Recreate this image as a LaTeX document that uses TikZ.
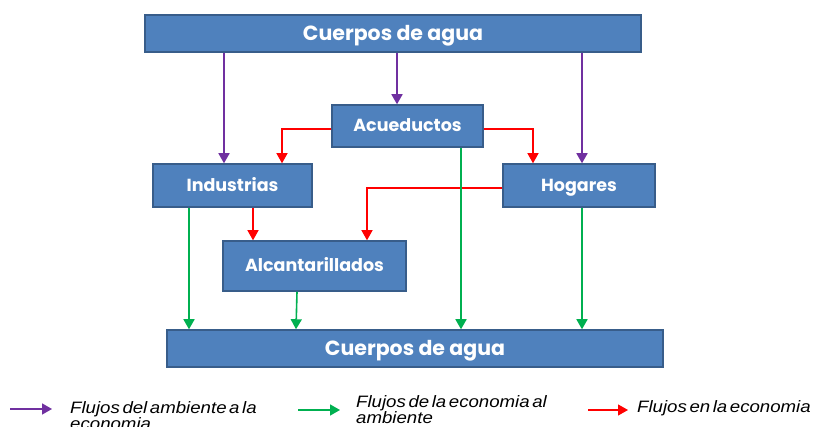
\documentclass[tikz,border=0pt]{standalone}
\usepackage{fontspec}
\setmainfont{Liberation Sans}
\newfontfamily\boxfont{Poppins}
\newfontfamily\legendfont{Liberation Sans}[FakeStretch=1.13, WordSpace=0.5]
\usetikzlibrary{arrows.meta}

\definecolor{box_blue}{HTML}{4F81BD}
\definecolor{box_edge}{HTML}{385D8A}
\definecolor{flow_purple}{HTML}{7030A0}
\definecolor{flow_green}{HTML}{00B050}
\definecolor{flow_red}{HTML}{FF0000}

\begin{document}
\begin{tikzpicture}[x=1pt, y=-1pt,
	flowbox/.style={draw=box_edge, line width=1.5pt, fill=box_blue, text=white, inner sep=0pt,
		text height=12pt, text depth=0pt, font=\boxfont\bfseries\fontsize{17.5}{19}\selectfont},
	bigbox/.style={flowbox, minimum width=496, minimum height=37, text height=14.5pt,
		font=\boxfont\bfseries\fontsize{20.5}{22}\selectfont},
	envarrow/.style={draw=flow_purple, line width=1.6pt, -{Triangle[width=11pt, length=10pt]}},
	ecoarrow/.style={draw=flow_green, line width=1.6pt, -{Triangle[width=11pt, length=10pt]}},
	inarrow/.style={draw=flow_red, line width=1.2pt, -{Triangle[width=11pt, length=10pt]}},
	legendtext/.style={font=\legendfont\itshape\fontsize{16.5}{15}\selectfont,
		align=left, inner sep=0pt, anchor=base west}]
	\useasboundingbox [fill=white] (0, 0) rectangle (814, 427);
	% draw the boxes
	\node [bigbox] (top) at (393, 33.5) {Cuerpos de agua};
	\node [flowbox, minimum width=151, minimum height=42] (acu) at (407.5, 126) {Acueductos};
	\node [flowbox, minimum width=159, minimum height=43] (ind) at (232.5, 185.5) {Industrias};
	\node [flowbox, minimum width=152, minimum height=43] (hog) at (579, 185.5) {Hogares};
	\node [flowbox, minimum width=183, minimum height=50] (alc) at (314.5, 266) {Alcantarillados};
	\node [bigbox] (bot) at (415, 348.5) {Cuerpos de agua};
	% flows from the environment
	\draw [envarrow] (224, 0 |- top.south) -- (224, 0 |- ind.north);
	\draw [envarrow] (397, 0 |- top.south) -- (397, 0 |- acu.north);
	\draw [envarrow] (582, 0 |- top.south) -- (582, 0 |- hog.north);
	% flows inside the economy
	\draw [inarrow] ([yshift=-3pt]acu.west) -| (282, 0 |- ind.north);
	\draw [inarrow] ([yshift=-3pt]acu.east) -| (533, 0 |- hog.north);
	\draw [inarrow] ([yshift=-2.5pt]hog.west) -| (367, 0 |- alc.north);
	\draw [inarrow] (253, 0 |- ind.south) -- (253, 0 |- alc.north);
	% flows back to the environment
	\draw [ecoarrow] (189, 0 |- ind.south) -- (189, 0 |- bot.north);
	\draw [ecoarrow] (297, 0 |- alc.south) -- (296, 0 |- bot.north);
	\draw [ecoarrow] (461, 0 |- acu.south) -- (461, 0 |- bot.north);
	\draw [ecoarrow] (582, 0 |- hog.south) -- (582, 0 |- bot.north);
	% legend
	\coordinate (key1) at (10, 409);
	\coordinate (key2) at (298, 410);
	\coordinate (key3) at (588, 410);
	\draw [envarrow] (key1) -- ++(42, 0);
	\draw [ecoarrow] (key2) -- ++(42, 0);
	\draw [inarrow] (key3) -- ++(40, 0);
	% base of a two line node is its last line
	\node [legendtext] (txt1) at (70, 430) {Flujos del ambiente a la\\economia};
	\node [legendtext] (txt2) at (356, 424) {Flujos de la economia al\\ambiente};
	\node [legendtext] (txt3) at (637, 413) {Flujos en la economia};
\end{tikzpicture}
\end{document}
